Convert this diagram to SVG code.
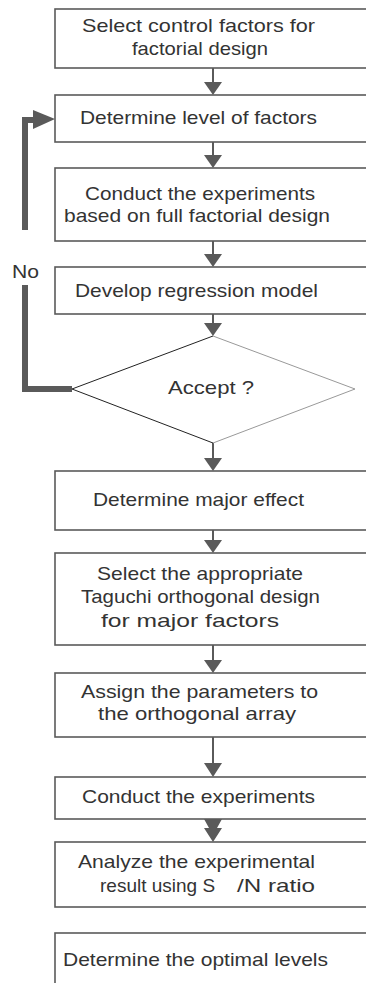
<svg xmlns="http://www.w3.org/2000/svg" width="366" height="983" viewBox="0 0 366 983">
<style>
.box{fill:#fff;stroke:#5a5a5a;stroke-width:1.6}
.t{font-family:"Liberation Sans",Arial,sans-serif;font-size:19px;fill:#333}
.ln{stroke:#5a5a5a;stroke-width:2;fill:none}
.hd{fill:#5a5a5a}
.fb{stroke:#5a5a5a;stroke-width:6;fill:none}
</style>
<rect width="366" height="983" fill="#fff"/>
<g id="connectors">
<line class="ln" x1="213" y1="68" x2="213" y2="84"/><polygon class="hd" points="204,82 222,82 213,95"/>
<line class="ln" x1="213" y1="142" x2="213" y2="156"/><polygon class="hd" points="204,155 222,155 213,168"/>
<line class="ln" x1="213" y1="241" x2="213" y2="255"/><polygon class="hd" points="204,254 222,254 213,267"/>
<line class="ln" x1="213" y1="314" x2="213" y2="324"/><polygon class="hd" points="204,323 222,323 213,336"/>
<line class="ln" x1="213" y1="443" x2="213" y2="459"/><polygon class="hd" points="204,458 222,458 213,471"/>
<line class="ln" x1="213" y1="530" x2="213" y2="542"/><polygon class="hd" points="204,540 222,540 213,553"/>
<line class="ln" x1="213" y1="645" x2="213" y2="662"/><polygon class="hd" points="204,660 222,660 213,673"/>
<line class="ln" x1="213" y1="737" x2="213" y2="765"/><polygon class="hd" points="204,763 222,763 213,777"/>
<polygon class="hd" points="204,819 222,819 217,828 222,828 213,842 204,828 209,828"/>
<polyline class="fb" points="25,230 25,120 34,120"/>
<polygon class="hd" points="33,110 55,119 33,129"/>
<polyline class="fb" points="25,285 25,389 72,389"/>
<text class="t" x="12" y="278" font-size="16" textLength="27" lengthAdjust="spacingAndGlyphs">No</text>
</g>
<g id="n1"><rect class="box" x="55" y="9" width="320" height="59"/>
<text class="t" x="82" y="32" textLength="233" lengthAdjust="spacingAndGlyphs">Select control factors  for</text>
<text class="t" x="132" y="55" textLength="136" lengthAdjust="spacingAndGlyphs">factorial design</text></g>
<g id="n2"><rect class="box" x="55" y="95" width="320" height="47"/>
<text class="t" x="80" y="124" textLength="237" lengthAdjust="spacingAndGlyphs">Determine level of factors</text></g>
<g id="n3"><rect class="box" x="55" y="168" width="320" height="73"/>
<text class="t" x="85" y="200" textLength="230" lengthAdjust="spacingAndGlyphs">Conduct the experiments</text>
<text class="t" x="64" y="222" textLength="266" lengthAdjust="spacingAndGlyphs">based on full factorial design</text></g>
<g id="n4"><rect class="box" x="55" y="267" width="320" height="47"/>
<text class="t" x="75" y="297" textLength="243" lengthAdjust="spacingAndGlyphs">Develop regression model</text></g>
<g id="n5">
<polyline points="355,389 213,336" fill="none" stroke="#999" stroke-width="1"/>
<polyline points="355,389 213,443" fill="none" stroke="#999" stroke-width="1"/>
<polyline points="213,336 72,389 213,443" fill="none" stroke="#222" stroke-width="1"/>
<text class="t" x="168" y="394" textLength="86" lengthAdjust="spacingAndGlyphs">Accept  ?</text></g>
<g id="n6"><rect class="box" x="55" y="471" width="320" height="59"/>
<text class="t" x="93" y="506" textLength="211" lengthAdjust="spacingAndGlyphs">Determine major effect</text></g>
<g id="n7"><rect class="box" x="55" y="553" width="320" height="92"/>
<text class="t" x="97" y="580" textLength="206" lengthAdjust="spacingAndGlyphs">Select the appropriate</text>
<text class="t" x="81" y="603" textLength="239" lengthAdjust="spacingAndGlyphs">Taguchi orthogonal design</text>
<text class="t" x="101" y="627" textLength="178" lengthAdjust="spacingAndGlyphs">for major factors</text></g>
<g id="n8"><rect class="box" x="55" y="673" width="320" height="64"/>
<text class="t" x="81" y="698" textLength="237" lengthAdjust="spacingAndGlyphs">Assign the parameters  to</text>
<text class="t" x="98" y="720" textLength="198" lengthAdjust="spacingAndGlyphs">the orthogonal array</text></g>
<g id="n9"><rect class="box" x="55" y="777" width="320" height="42"/>
<text class="t" x="82" y="803" textLength="233" lengthAdjust="spacingAndGlyphs">Conduct the experiments</text></g>
<g id="n10"><rect class="box" x="55" y="842" width="320" height="65"/>
<text class="t" x="78" y="868" textLength="237" lengthAdjust="spacingAndGlyphs">Analyze the experimental</text>
<text class="t" x="100" y="892">result using S</text>
<text class="t" x="237" y="892" textLength="78" lengthAdjust="spacingAndGlyphs">/N ratio</text></g>
<g id="n11"><rect class="box" x="55" y="933" width="320" height="60"/>
<text class="t" x="63" y="966" textLength="265" lengthAdjust="spacingAndGlyphs">Determine the optimal levels</text></g>
</svg>
